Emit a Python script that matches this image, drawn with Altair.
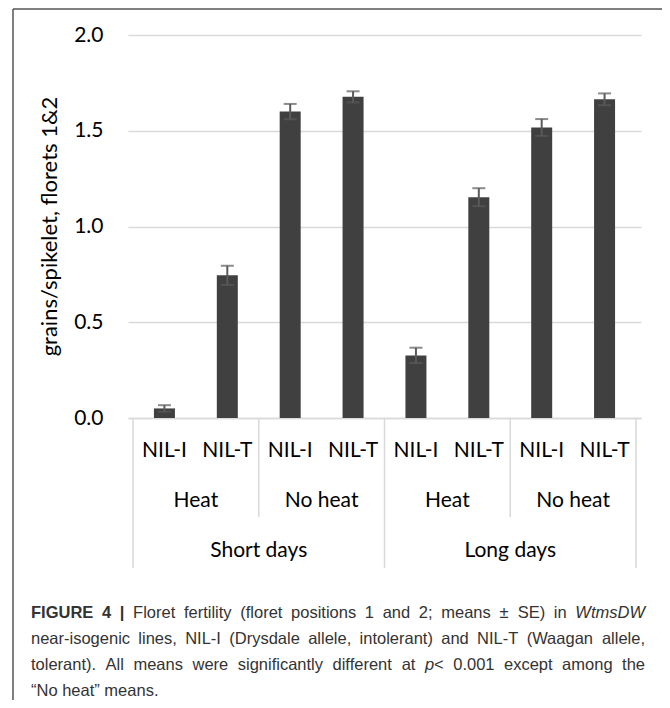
import altair as alt
import pandas as pd

# ---- data ----
genotypes = ["NIL-I", "NIL-T", "NIL-I", "NIL-T", "NIL-I", "NIL-T", "NIL-I", "NIL-T"]
treatments = ["Heat", "No heat", "Heat", "No heat"]
daylengths = ["Short days", "Long days"]
means = [0.05, 0.745, 1.60, 1.677, 0.327, 1.153, 1.517, 1.664]
ses = [0.017, 0.05, 0.04, 0.029, 0.04, 0.047, 0.044, 0.031]
y_ticks = [0.0, 0.5, 1.0, 1.5, 2.0]
y_title = "grains/spikelet, florets 1&2"
long_separators = [0, 4, 8]
short_separators = [2, 6]

# caption: lines of words; each word is a list of (text, style) segments
caption_lines = [
    [[("FIGURE", "b")], [("4", "b")], [("|", "b")]]
    + [[(w, "n")] for w in "Floret fertility (floret positions 1 and 2; means \u00b1 SE) in".split(" ")]
    + [[("WtmsDW", "i")]],
    [[(w, "n")] for w in "near-isogenic lines, NIL-I (Drysdale allele, intolerant) and NIL-T (Waagan allele,".split(" ")],
    [[(w, "n")] for w in "tolerant). All means were significantly different at".split(" ")]
    + [[("p", "i"), ("<", "n")]]
    + [[(w, "n")] for w in "0.001 except among the".split(" ")],
    [[(w, "n")] for w in "\u201cNo heat\u201d means.".split(" ")],
]
justified = [True, True, True, False]

W, H = 513, 383
FONT = "Lato"
CAP_FONT = "Liberation Sans"
CAP_SIZE = 16.5

# Helvetica/Arial (Liberation Sans) advance widths, 1/1000 em
AW = {" ": 278, "!": 278, '"': 355, "(": 333, ")": 333, ",": 278, "-": 333, ".": 278,
      ";": 278, "<": 584, "|": 260, "\u201c": 333, "\u201d": 333, "\u00b1": 584}
for d in "0123456789":
    AW[d] = 556
AW.update({"A": 667, "B": 667, "C": 722, "D": 722, "E": 667, "F": 611, "G": 778, "H": 722,
           "I": 278, "J": 500, "K": 667, "L": 556, "M": 833, "N": 722, "O": 778, "P": 667,
           "Q": 778, "R": 722, "S": 667, "T": 611, "U": 722, "V": 667, "W": 944, "X": 667,
           "Y": 667, "Z": 611, "a": 556, "b": 556, "c": 500, "d": 556, "e": 556, "f": 278,
           "g": 556, "h": 556, "i": 222, "j": 222, "k": 500, "l": 222, "m": 833, "n": 556,
           "o": 556, "p": 556, "q": 556, "r": 333, "s": 500, "t": 278, "u": 556, "v": 500,
           "w": 722, "x": 500, "y": 500, "z": 500})
BOLD_EXTRA = {"|": 280}


def seg_width(txt, style):
    tot = 0
    for ch in txt:
        if style == "b" and ch in BOLD_EXTRA:
            tot += BOLD_EXTRA[ch]
        else:
            tot += AW.get(ch, 556)
    return tot / 1000.0 * CAP_SIZE


CAP_LEFT, CAP_RIGHT = 31 - 128, 645 - 128
CAP_Y0, CAP_DY = 613 - 35, 26

bars_df = pd.DataFrame({
    "pos": [i + 0.5 for i in range(len(means))],
    "geno": genotypes,
    "mean": means,
    "se": ses,
})
bars_df["lo"] = bars_df["mean"] - bars_df["se"]
bars_df["hi"] = bars_df["mean"] + bars_df["se"]

treat_df = pd.DataFrame({"pos": [2 * i + 1 for i in range(len(treatments))], "label": treatments})
day_df = pd.DataFrame({"pos": [4 * i + 2 for i in range(len(daylengths))], "label": daylengths})
long_df = pd.DataFrame({"pos": long_separators})
short_df = pd.DataFrame({"pos": short_separators})

xscale = alt.Scale(domain=[0, 8], nice=False, zero=False)
yscale = alt.Scale(domain=[0, 2], nice=False)
xaxis = alt.Axis(labels=False, ticks=False, grid=False, title=None,
                 domainColor="#d9d9d9", domainWidth=1.5)

base = alt.Chart(bars_df)

bars = base.mark_bar(size=21, color="#404040", orient="vertical").encode(
    x=alt.X("pos:Q", scale=xscale, axis=xaxis),
    y=alt.Y("mean:Q", scale=yscale,
            axis=alt.Axis(values=y_ticks, format=".1f", labelFontSize=21, labelFont=FONT,
                          labelColor="black", labelPadding=25, domain=False, ticks=False,
                          gridColor="#d9d9d9", gridWidth=1.5, title=None)),
)

err = base.mark_rule(color="#5a5a5a", strokeWidth=2).encode(
    x=alt.X("pos:Q", scale=xscale, axis=xaxis), y=alt.Y("lo:Q", scale=yscale), y2="hi:Q")
cap_hi = base.mark_tick(orient="horizontal", size=13, thickness=2, color="#5a5a5a").encode(
    x=alt.X("pos:Q", scale=xscale, axis=xaxis), y=alt.Y("hi:Q", scale=yscale))
cap_lo = base.mark_tick(orient="horizontal", size=13, thickness=2, color="#5a5a5a").encode(
    x=alt.X("pos:Q", scale=xscale, axis=xaxis), y=alt.Y("lo:Q", scale=yscale))

geno_text = base.mark_text(font=FONT, fontSize=21, color="black", baseline="middle").encode(
    x=alt.X("pos:Q", scale=xscale, axis=xaxis), y=alt.value(H + 33), text="geno:N")
treat_text = alt.Chart(treat_df).mark_text(font=FONT, fontSize=21, color="black", baseline="middle").encode(
    x=alt.X("pos:Q", scale=xscale, axis=xaxis), y=alt.value(H + 83), text="label:N")
day_text = alt.Chart(day_df).mark_text(font=FONT, fontSize=21, color="black", baseline="middle").encode(
    x=alt.X("pos:Q", scale=xscale, axis=xaxis), y=alt.value(H + 133), text="label:N")

long_sep = alt.Chart(long_df).mark_rule(color="#d9d9d9", strokeWidth=1.5).encode(
    x=alt.X("pos:Q", scale=xscale, axis=xaxis), y=alt.value(H), y2=alt.value(H + 150))
short_sep = alt.Chart(short_df).mark_rule(color="#d9d9d9", strokeWidth=1.5).encode(
    x=alt.X("pos:Q", scale=xscale, axis=xaxis), y=alt.value(H), y2=alt.value(H + 99))

one = pd.DataFrame({"t": [y_title]})
ytitle = alt.Chart(one).mark_text(font=FONT, fontSize=22, color="black", angle=270,
                                  baseline="middle", align="center").encode(
    text="t:N", x=alt.value(-78), y=alt.value(H / 2))

frame_top = alt.Chart(one).mark_rule(color="#555555", strokeWidth=1.5).encode(
    x=alt.value(-115), x2=alt.value(560), y=alt.value(-26))
frame_left = alt.Chart(one).mark_rule(color="#555555", strokeWidth=1.5).encode(
    x=alt.value(-115), y=alt.value(-26), y2=alt.value(700))

# caption layout (justified lines like the journal page)
STYLE = {"n": ("normal", "normal"), "b": ("bold", "normal"), "i": ("normal", "italic")}
cap_layers = []
for li, words in enumerate(caption_lines):
    widths = [sum(seg_width(t, s) for t, s in w) for w in words]
    space = seg_width(" ", "n")
    if justified[li] and len(words) > 1:
        gap = (CAP_RIGHT - CAP_LEFT - sum(widths)) / (len(words) - 1)
        gap = max(gap, space)
    else:
        gap = space
    cx = CAP_LEFT
    cy = CAP_Y0 + li * CAP_DY
    for w, ww in zip(words, widths):
        sx = cx
        for t, s in w:
            fw, fs = STYLE[s]
            cap_layers.append(
                alt.Chart(pd.DataFrame({"t": [t]})).mark_text(
                    font=CAP_FONT, fontSize=CAP_SIZE, color="#333333", fontWeight=fw,
                    fontStyle=fs, align="left", baseline="middle").encode(
                    text="t:N", x=alt.value(sx), y=alt.value(cy))
            )
            sx += seg_width(t, s)
        cx += ww + gap

chart = alt.layer(
    long_sep, short_sep, bars, err, cap_hi, cap_lo, geno_text, treat_text, day_text,
    ytitle, frame_top, frame_left, *cap_layers
).properties(
    width=W, height=H,
    autosize=alt.AutoSizeParams(type="none"),
    padding={"left": 120, "top": 27, "right": 21, "bottom": 282},
).configure(background="white").configure_view(strokeWidth=0, stroke="transparent")

chart.save("out.html", embed_options={"renderer": "svg", "actions": False})
